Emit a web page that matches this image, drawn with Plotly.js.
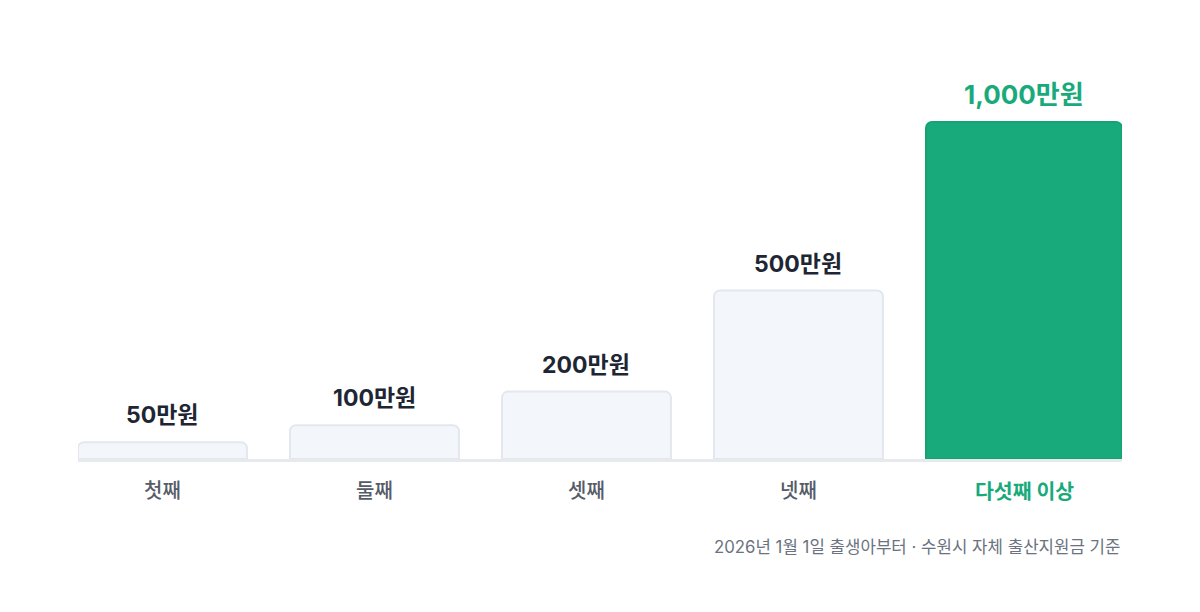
<!DOCTYPE html>
<html lang="ko">
<head>
<meta charset="utf-8">
<script src="https://cdn.plot.ly/plotly-3.0.1.min.js"></script>
<style>
  html, body { margin: 0; padding: 0; background: #ffffff; }
  #chart { width: 1200px; height: 612px; }
</style>
</head>
<body>
<div id="chart"></div>
<script>
const categories = ['첫째', '둘째', '셋째', '넷째', '다섯째 이상'];
const amounts = [50, 100, 200, 500, 1000];
const valueLabels = amounts.map((v) => v.toLocaleString('en-US') + '만원');
const footnote = '2026년 1월 1일 출생아부터 · 수원시 자체 출산지원금 기준';
const highlightIndex = 4;

const GREEN = '#19aa7b';
const FONT = 'Inter, "Noto Sans CJK KR", "Noto Sans", sans-serif';

// slot geometry (category units)
const barOffset = -0.4;
const barWidthNormal = 0.797;
const barWidthHigh = 0.9245;
const xRange = [-0.4, 4.5245];
const margin = { l: 78, r: 78, t: 88, b: 153 };
const pxPerUnit = (1200 - margin.l - margin.r) / (xRange[1] - xRange[0]);

const isHigh = (i) => i === highlightIndex;
const widths = categories.map((_, i) => (isHigh(i) ? barWidthHigh : barWidthNormal));
const centerShift = widths.map((w) => (barOffset + w / 2) * pxPerUnit);

const trace = {
  type: 'bar',
  x: categories,
  y: amounts,
  width: widths,
  offset: categories.map(() => barOffset),
  marker: {
    color: categories.map((_, i) => (isHigh(i) ? GREEN : '#f3f6fa')),
    line: {
      color: categories.map((_, i) => (isHigh(i) ? '#17a274' : '#e3e8ef')),
      width: 2,
    },
    cornerradius: 6,
  },
  hoverinfo: 'skip',
  showlegend: false,
};

const annotations = [];
categories.forEach((cat, i) => {
  // value above bar
  annotations.push({
    x: cat, y: amounts[i], xref: 'x', yref: 'y',
    text: '<b>' + valueLabels[i] + '</b>',
    showarrow: false, xanchor: 'center', yanchor: 'bottom',
    xshift: centerShift[i], yshift: isHigh(i) ? 10 : 11,
    font: { family: FONT, size: isHigh(i) ? 26 : 23, color: isHigh(i) ? GREEN : '#1e2634' },
  });
  // category label under axis
  annotations.push({
    x: cat, y: 0, xref: 'x', yref: 'paper',
    text: isHigh(i) ? '<b>' + cat + '</b>' : cat,
    showarrow: false, xanchor: 'center', yanchor: 'top',
    xshift: centerShift[i], yshift: -18,
    font: { family: FONT, size: isHigh(i) ? 20.5 : 20, weight: isHigh(i) ? 700 : 500, color: isHigh(i) ? GREEN : '#555c68' },
  });
});
annotations.push({
  x: 1, y: 0, xref: 'paper', yref: 'paper',
  text: footnote,
  showarrow: false, xanchor: 'right', yanchor: 'top',
  yshift: -76,
  font: { family: FONT, size: 16.8, color: '#6b7280' },
});

const layout = {
  width: 1200,
  height: 612,
  margin: margin,
  paper_bgcolor: '#ffffff',
  plot_bgcolor: '#ffffff',
  font: { family: FONT },
  xaxis: {
    type: 'category',
    range: xRange,
    showticklabels: false,
    ticks: '',
    showgrid: false,
    zeroline: false,
    showline: true,
    linecolor: '#e6e9ee',
    linewidth: 3,
    fixedrange: true,
  },
  yaxis: {
    range: [0, 1101],
    showticklabels: false,
    showgrid: false,
    zeroline: false,
    showline: false,
    fixedrange: true,
  },
  annotations: annotations,
  bargap: 0,
};

Plotly.newPlot('chart', [trace], layout, { displayModeBar: false, staticPlot: true });
</script>
</body>
</html>
